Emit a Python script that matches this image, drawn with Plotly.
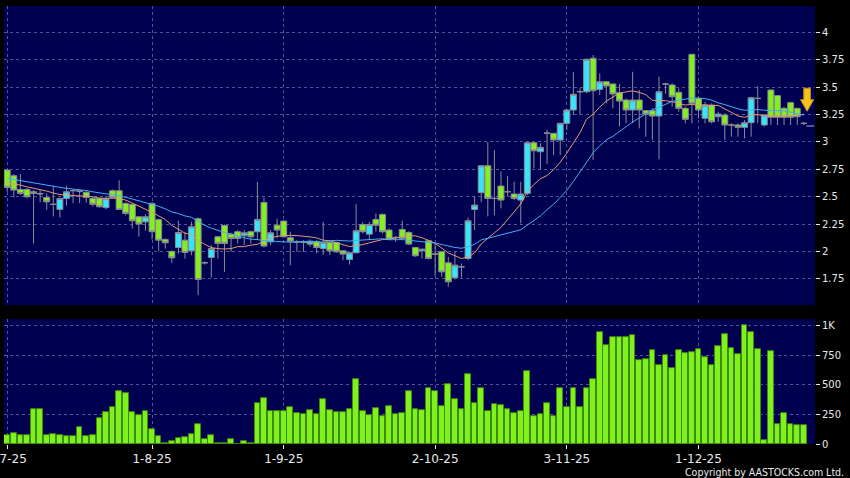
import plotly.graph_objects as go
import pandas as pd

# ---------------- data ----------------
tick_pos = [0, 22, 42, 65, 85, 105]
tick_labels = ["2-7-25", "1-8-25", "1-9-25", "2-10-25", "3-11-25", "1-12-25"]

opens = [2.743, 2.691, 2.566, 2.566, 2.545, 2.53, 2.493, 2.43, 2.384, 2.484,
         2.555, 2.553, 2.54, 2.484, 2.484, 2.40, 2.554, 2.554, 2.438, 2.429,
         2.316, 2.27, 2.438, 2.29, 2.11, 2.0, 2.036, 2.103, 2.006, 2.298,
         1.897, 1.945, 2.134, 2.237, 2.158, 2.18, 2.143, 2.18, 2.18, 2.447,
         2.088, 2.24, 2.277, 2.125, 2.088, 2.082, 2.067, 2.088, 2.027, 2.082,
         2.082, 2.006, 1.927, 1.988, 2.246, 2.158, 2.292, 2.338, 2.195, 2.128,
         2.201, 2.173, 2.036, 2.006, 2.097, 1.976, 1.997, 1.896, 1.76, 1.86,
         1.936, 2.383, 2.536, 2.782, 2.484, 2.597, 2.545, 2.524, 2.469, 2.53,
         2.992, 2.91, 3.08, 3.078, 3.017, 3.169, 3.291, 3.458, 3.458, 3.763,
         3.479, 3.549, 3.528, 3.449, 3.382, 3.291, 3.382, 3.285, 3.285, 3.236,
         3.528, 3.519, 3.452, 3.306, 3.799, 3.397, 3.215, 3.336, 3.230, 3.245,
         3.154, 3.154, 3.133, 3.175, 3.397, 3.154, 3.473, 3.422, 3.306, 3.358,
         3.306, 3.169]
highs = [2.75, 2.706, 2.706, 2.58, 2.56, 2.56, 2.53, 2.60, 2.49, 2.60,
         2.566, 2.56, 2.55, 2.50, 2.49, 2.505, 2.566, 2.65, 2.454, 2.44,
         2.32, 2.34, 2.45, 2.30, 2.12, 2.01, 2.28, 2.18, 2.27, 2.31,
         1.91, 2.058, 2.14, 2.246, 2.17, 2.195, 2.195, 2.19, 2.636, 2.493,
         2.195, 2.30, 2.286, 2.18, 2.103, 2.103, 2.11, 2.103, 2.27, 2.103,
         2.09, 2.012, 1.996, 2.432, 2.27, 2.27, 2.347, 2.347, 2.21, 2.14,
         2.28, 2.185, 2.043, 2.027, 2.103, 2.073, 2.006, 1.95, 1.997, 1.89,
         2.31, 2.505, 2.788, 3.0, 2.925, 2.73, 2.688, 2.636, 2.636, 3.0,
         3.0, 2.986, 3.11, 3.08, 3.175, 3.297, 3.64, 3.49, 3.763, 3.793,
         3.625, 3.55, 3.534, 3.53, 3.397, 3.64, 3.473, 3.291, 3.306, 3.595,
         3.54, 3.534, 3.488, 3.321, 3.799, 3.412, 3.367, 3.352, 3.276, 3.26,
         3.169, 3.169, 3.199, 3.412, 3.51, 3.254, 3.48, 3.428, 3.321, 3.367,
         3.312, 3.184]
lows = [2.545, 2.493, 2.515, 2.484, 2.073, 2.45, 2.38, 2.32, 2.31, 2.42,
        2.44, 2.44, 2.445, 2.41, 2.40, 2.384, 2.484, 2.38, 2.33, 2.21,
        2.134, 2.19, 2.11, 2.006, 2.027, 1.896, 1.98, 1.936, 1.966, 1.601,
        1.88, 1.763, 1.936, 1.814, 1.997, 2.073, 2.058, 2.073, 2.103, 2.036,
        2.058, 2.12, 2.128, 1.875, 1.997, 1.997, 2.043, 1.982, 1.967, 1.967,
        1.988, 1.92, 1.881, 1.982, 2.164, 2.103, 2.18, 2.164, 2.103, 2.088,
        2.103, 2.058, 1.951, 1.936, 1.927, 1.775, 1.768, 1.677, 1.744, 1.762,
        1.92, 2.195, 2.45, 2.32, 2.33, 2.393, 2.50, 2.469, 2.256, 2.515,
        2.758, 2.75, 2.80, 2.88, 2.88, 3.108, 3.245, 3.245, 3.443, 2.834,
        3.428, 3.352, 3.306, 3.14, 3.17, 3.17, 3.123, 3.047, 3.017, 2.84,
        3.44, 3.321, 3.275, 3.169, 3.17, 3.215, 3.169, 3.169, 3.184, 3.017,
        3.047, 3.047, 3.032, 3.047, 3.17, 3.139, 3.154, 3.154, 3.154, 3.154,
        3.154, 3.154]
closes = [2.584, 2.560, 2.530, 2.499, 2.530, 2.525, 2.453, 2.43, 2.484, 2.545,
          2.555, 2.55, 2.493, 2.43, 2.408, 2.484, 2.493, 2.384, 2.347, 2.28,
          2.25, 2.316, 2.18, 2.103, 2.079, 1.942, 2.173, 1.991, 2.225, 1.744,
          1.897, 2.027, 2.073, 2.073, 2.118, 2.118, 2.17, 2.134, 2.292, 2.049,
          2.17, 2.195, 2.134, 2.094, 2.088, 2.082, 2.094, 2.036, 2.082, 2.006,
          1.997, 1.976, 1.988, 2.189, 2.18, 2.246, 2.24, 2.18, 2.113, 2.128,
          2.119, 2.067, 1.96, 2.021, 1.936, 1.976, 1.814, 1.723, 1.875, 1.86,
          2.28, 2.423, 2.782, 2.484, 2.484, 2.469, 2.545, 2.484, 2.524, 2.992,
          2.919, 2.95, 3.08, 3.017, 3.169, 3.291, 3.434, 3.458, 3.753, 3.467,
          3.549, 3.51, 3.437, 3.373, 3.291, 3.382, 3.291, 3.254, 3.236, 3.458,
          3.528, 3.412, 3.306, 3.206, 3.352, 3.291, 3.336, 3.184, 3.254, 3.154,
          3.154, 3.133, 3.175, 3.403, 3.397, 3.245, 3.224, 3.224, 3.224, 3.224,
          3.23, 3.169]
# closes before the first visible day (only used to seed the moving averages)
prior_closes = [2.76, 2.74, 2.73, 2.72, 2.70, 2.71, 2.69, 2.68, 2.67, 2.67,
                2.66, 2.65, 2.66, 2.64, 2.63, 2.62, 2.61, 2.62, 2.60]
volumes = [73, 88, 76, 73, 297, 294, 73, 82, 76, 68,
           68, 144, 65, 79, 215, 268, 311, 449, 427, 268,
           246, 274, 124, 68, 11, 25, 51, 62, 85, 172,
           40, 73, 8, 8, 40, 2, 23, 5, 345, 384,
           277, 277, 277, 314, 263, 254, 285, 251, 376, 288,
           271, 271, 299, 548, 274, 243, 302, 237, 322, 254,
           257, 444, 291, 285, 477, 446, 322, 503, 376, 294,
           588, 345, 469, 277, 339, 328, 294, 260, 274, 616,
           232, 249, 350, 237, 475, 311, 469, 308, 469, 545,
           944, 836, 901, 907, 907, 921, 709, 715, 797, 667,
           751, 644, 794, 768, 774, 800, 734, 664, 831, 932,
           808, 760, 1006, 949, 802, 31, 785, 167, 260, 164,
           158, 158]
price_ticks = [1.75, 2, 2.25, 2.5, 2.75, 3, 3.25, 3.5, 3.75, 4]
price_tick_text = ["1.75", "2", "2.25", "2.5", "2.75", "3", "3.25", "3.5", "3.75", "4"]
vol_ticks = [0, 250, 500, 750, 1000]
vol_tick_text = ["0", "250", "500", "750", "1K"]
last_price = 3.145

# ---------------- derived ----------------
n = len(closes)
xs = list(range(n))
all_close = pd.Series(prior_closes + closes)
ma10 = all_close.rolling(10).mean().iloc[len(prior_closes):].tolist()
ma20 = all_close.rolling(20).mean().iloc[len(prior_closes):].tolist()

NAVY = "#000050"
GRID = "rgba(140,140,190,0.6)"
GDASH = "3px,3px"
TXT = "#e8e8e8"

fig = go.Figure()

fig.add_trace(go.Candlestick(
    x=xs, open=opens, high=highs, low=lows, close=closes,
    increasing=dict(fillcolor="#38e4fa", line=dict(color="#8a8a96", width=1)),
    decreasing=dict(fillcolor="#84ee22", line=dict(color="#8a8a96", width=1)),
    whiskerwidth=0, xaxis="x", yaxis="y", showlegend=False, hoverinfo="skip"))

fig.add_trace(go.Scatter(x=xs, y=ma10, mode="lines",
                         line=dict(color="#e59a6e", width=1),
                         xaxis="x", yaxis="y", showlegend=False, hoverinfo="skip"))
fig.add_trace(go.Scatter(x=xs, y=ma20, mode="lines",
                         line=dict(color="#44b0f2", width=1),
                         xaxis="x", yaxis="y", showlegend=False, hoverinfo="skip"))

fig.add_trace(go.Bar(x=xs, y=volumes, width=0.86,
                     marker=dict(color="#7ff21e", line=dict(color="#3f8a0c", width=1)),
                     xaxis="x2", yaxis="y2", showlegend=False, hoverinfo="skip"))

xr = [-0.49, 122.7]
common_x = dict(range=xr, tickmode="array", tickvals=tick_pos, ticktext=tick_labels,
                showgrid=True, gridcolor=GRID, griddash=GDASH, gridwidth=1,
                zeroline=False, showline=False, fixedrange=True,
                ticklabeloverflow="allow")

fig.update_layout(
    width=850, height=478,
    paper_bgcolor="black", plot_bgcolor=NAVY,
    margin=dict(l=4, r=35, t=6, b=34, autoexpand=False),
    font=dict(family="DejaVu Sans", color=TXT),
    bargap=0, boxgap=0.1, boxgroupgap=0,
    xaxis=dict(**common_x, domain=[0, 1], anchor="y", showticklabels=False, ticks="",
               rangeslider=dict(visible=False)),
    yaxis=dict(domain=[0.317, 1], range=[1.51, 4.24], side="right",
               tickmode="array", tickvals=price_ticks, ticktext=price_tick_text,
               ticks="outside", ticklen=4, tickcolor=TXT, tickfont=dict(size=10, color=TXT),
               showgrid=True, gridcolor=GRID, griddash=GDASH, zeroline=False,
               showline=False, fixedrange=True),
    xaxis2=dict(**common_x, domain=[0, 1], anchor="y2", showticklabels=True,
                ticks="outside", ticklen=4, tickcolor=TXT, tickfont=dict(size=12, color=TXT)),
    yaxis2=dict(domain=[0, 0.285], range=[0, 1057], side="right",
                tickmode="array", tickvals=vol_ticks, ticktext=vol_tick_text,
                ticks="outside", ticklen=4, tickcolor=TXT, tickfont=dict(size=10, color=TXT),
                showgrid=True, gridcolor=GRID, griddash=GDASH, zeroline=False,
                showline=False, fixedrange=True),
)

# last price marker
fig.add_shape(type="line", xref="x", yref="y", x0=n - 0.6, x1=n + 0.6,
              y0=last_price, y1=last_price, line=dict(color="#b0b0c0", width=1))

# yellow down arrow marking the latest candle
ax = n - 0.5
fig.add_shape(type="path", xref="x", yref="y",
              path=(f"M {ax-0.5},3.49 L {ax+0.5},3.49 L {ax+0.5},3.385 L {ax+1.0},3.385 "
                    f"L {ax},3.28 L {ax-1.0},3.385 L {ax-0.5},3.385 Z"),
              fillcolor="#f6c21c", line=dict(color="#c9901a", width=1))

fig.add_annotation(text="Copyright by AASTOCKS.com Ltd.", xref="paper", yref="paper",
                   x=1, y=0, xanchor="right", yanchor="middle", xshift=31, yshift=-28,
                   showarrow=False,
                   font=dict(size=10.5, color=TXT,
                             family="DejaVu Sans Condensed, Liberation Sans Narrow, Liberation Sans"))

fig.write_html("out.html", config={"displayModeBar": False},
               post_script="document.body.style.margin='0px';")
